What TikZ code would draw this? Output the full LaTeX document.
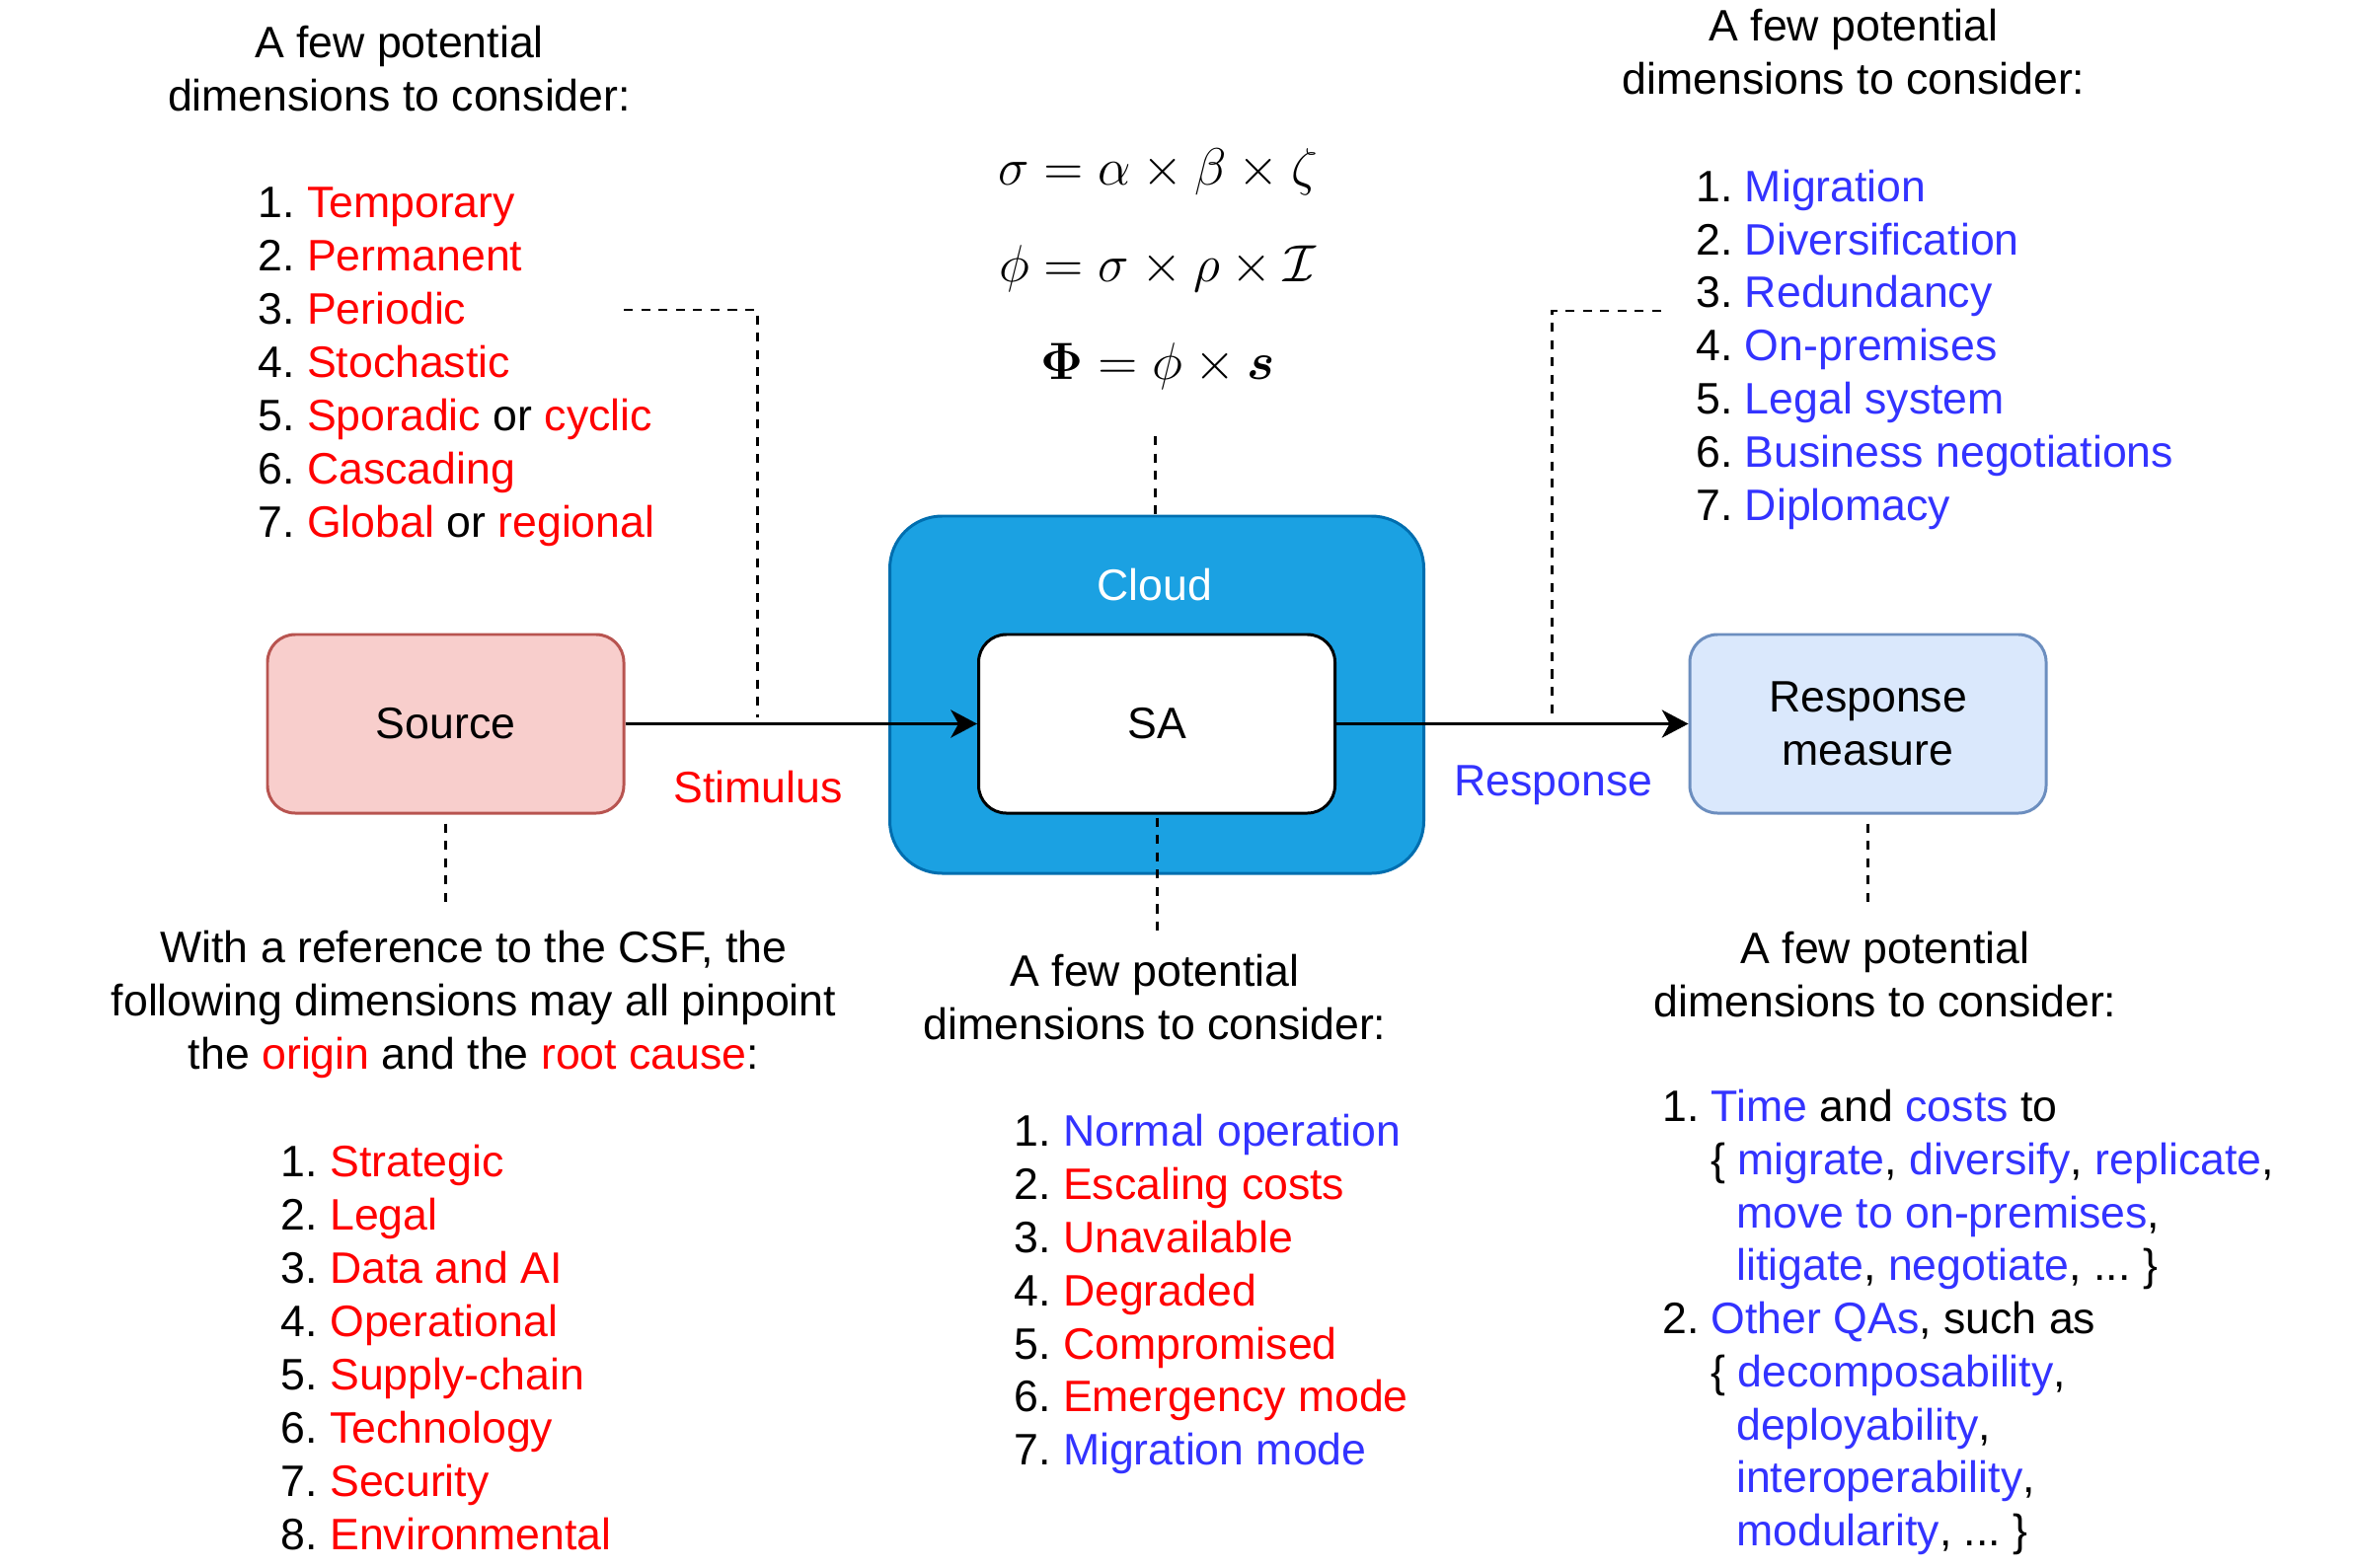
\RequirePackage{fix-cm}
\documentclass[tikz,border=0pt]{standalone}
\usepackage[no-math]{fontspec}
\setmainfont{Liberation Sans}
\usepackage{amsmath,amssymb}
\usepackage{xcolor}
\definecolor{textRed}{RGB}{255,0,0}
\definecolor{textBlue}{RGB}{51,51,255}
\definecolor{cloudFill}{RGB}{27,161,226}
\definecolor{cloudLine}{RGB}{0,110,175}
\definecolor{srcFill}{RGB}{248,206,204}
\definecolor{srcLine}{RGB}{184,84,80}
\definecolor{respFill}{RGB}{218,232,252}
\definecolor{respLine}{RGB}{108,142,191}
\usepackage{tikz}
\usetikzlibrary{arrows.meta,positioning,calc}
\newcommand{\redtxt}[1]{\textcolor{textRed}{#1}}
\newcommand{\bluetxt}[1]{\textcolor{textBlue}{#1}}
\newcommand{\diofont}{\fontsize{12.7}{15.36}\selectfont\frenchspacing}
\tikzstyle{basebox}=[rectangle, rounded corners=0.28cm, minimum width=3.61cm, minimum height=1.81cm, line width=0.85pt, inner sep=0pt, font=\diofont, align=center]
\tikzstyle{srcbox}=[basebox, draw=srcLine, fill=srcFill]
\tikzstyle{sabox}=[basebox, draw=black, fill=white]
\tikzstyle{respbox}=[basebox, draw=respLine, fill=respFill]
\tikzstyle{cloudbox}=[rectangle, rounded corners=0.53cm, minimum width=5.41cm, minimum height=3.62cm, line width=0.85pt, draw=cloudLine, fill=cloudFill]
\tikzstyle{txt}=[inner sep=0pt, font=\diofont, align=center, anchor=base]
\tikzstyle{item}=[inner sep=0pt, font=\diofont, anchor=base west]
\tikzstyle{formula}=[inner sep=0pt, font=\fontsize{15.1}{18}\selectfont, anchor=base]
\tikzstyle{flowarrow}=[-{Stealth[length=7.6pt,width=8pt,inset=2.2pt]}, line width=0.85pt]
\tikzstyle{dimline}=[line width=0.85pt, dash pattern=on 2.6pt off 2.4pt]

\begin{document}
\begin{tikzpicture}
    \useasboundingbox (0,0) rectangle (23.88,-15.88);

    % Formulas
    \node[formula] (f1) at (11.73,-1.88) {$\sigma = \alpha \times \beta \times \zeta$};
    \node[formula] (f2) at (11.73,-2.86) {$\phi = \sigma \times \rho \times \mathcal{I}$};
    \node[formula] (f3) at (11.73,-3.85) {$\boldsymbol{\Phi} = \phi \times \boldsymbol{s}$};

    % Boxes
    \node[cloudbox] (cloud) at (11.72,-7.04) {};
    \node[txt, text=white] (cloudlbl) at (11.70,-6.08) {Cloud};
    \node[sabox] (sa) at (11.72,-7.335) {SA};
    \node[srcbox] (src) at (4.515,-7.335) {Source};
    \node[respbox] (resp) at (18.925,-7.335) {Response\\measure};

    % Arrows
    \draw[flowarrow] (src) -- (sa);
    \draw[flowarrow] (sa) -- (resp);
    \node[txt, text=textRed] (stim) at (7.68,-8.13) {Stimulus};
    \node[txt, text=textBlue] (respl) at (15.74,-8.06) {Response};

    % Headers (base = last line)
    \node[txt] (tlhead) at (4.045,-1.127) {A few potential\\dimensions to consider:};
    \node[txt] (trhead) at (18.78,-0.957) {A few potential\\dimensions to consider:};
    \node[txt] (blhead) at (4.80,-10.832) {With a reference to the CSF, the\\following dimensions may all pinpoint\\the \redtxt{origin} and the \redtxt{root cause}:};
    \node[txt] (bchead) at (11.70,-10.536) {A few potential\\dimensions to consider:};
    \node[txt] (brhead) at (19.10,-10.30) {A few potential\\dimensions to consider:};

    % Stimulus dimensions
    \foreach \i/\txt in {1/\redtxt{Temporary}, 2/\redtxt{Permanent}, 3/\redtxt{Periodic}, 4/\redtxt{Stochastic},
                         5/{\redtxt{Sporadic} or \redtxt{cyclic}}, 6/\redtxt{Cascading}, 7/{\redtxt{Global} or \redtxt{regional}}}
      \node[item] (tl\i) at (2.607, {-2.21-0.54*(\i-1)}) {\i. \txt};

    % Response dimensions
    \foreach \i/\txt in {1/Migration, 2/Diversification, 3/Redundancy, 4/On-premises,
                         5/Legal system, 6/Business negotiations, 7/Diplomacy}
      \node[item] (tr\i) at (17.176, {-2.045-0.5375*(\i-1)}) {\i. \bluetxt{\txt}};

    % Source dimensions
    \foreach \i/\txt in {1/Strategic, 2/Legal, 3/Data and AI, 4/Operational,
                         5/Supply-chain, 6/Technology, 7/Security, 8/Environmental}
      \node[item] (bl\i) at (2.84, {-11.923-0.54*(\i-1)}) {\i. \redtxt{\txt}};

    % SA dimensions
    \foreach \i/\txt in {1/\bluetxt{Normal operation}, 2/\redtxt{Escaling costs}, 3/\redtxt{Unavailable}, 4/\redtxt{Degraded},
                         5/\redtxt{Compromised}, 6/\redtxt{Emergency mode}, 7/\bluetxt{Migration mode}}
      \node[item] (bc\i) at (10.267, {-11.614-0.539*(\i-1)}) {\i. \txt};

    % Response measure dimensions
    \foreach \i/\xx/\txt in {1/16.835/{1. \bluetxt{Time} and \bluetxt{costs} to},
                             2/17.326/{\{ \bluetxt{migrate}, \bluetxt{diversify}, \bluetxt{replicate},},
                             3/17.585/{\bluetxt{move to on-premises},},
                             4/17.585/{\bluetxt{litigate}, \bluetxt{negotiate}, ... \}},
                             5/16.835/{2. \bluetxt{Other QAs}, such as},
                             6/17.326/{\{ \bluetxt{decomposability},},
                             7/17.585/{\bluetxt{deployability},},
                             8/17.585/{\bluetxt{interoperability},},
                             9/17.585/{\bluetxt{modularity}, ... \}}}
      \node[item] (br\i) at (\xx, {-11.367-0.5375*(\i-1)}) {\txt};

    % Dashed links
    \coordinate (tlA) at (6.32,-3.14);
    \coordinate (tlB) at (7.67,-7.27);
    \coordinate (trA) at (16.83,-3.15);
    \coordinate (trB) at (15.72,-7.27);
    \coordinate (fmB) at (11.70,-4.42);
    \coordinate (blB) at (4.515,-9.14);
    \coordinate (bcB) at (11.72,-9.44);
    \coordinate (brB) at (18.925,-9.14);
    \draw[dimline] (tlA) -| (tlB);
    \draw[dimline] (trA) -| (trB);
    \draw[dimline] (fmB) -- (fmB |- cloud.north);
    \draw[dimline] ([yshift=-0.09cm]src.south) -- (blB);
    \draw[dimline] ([yshift=-0.03cm]sa.south) -- (bcB);
    \draw[dimline] ([yshift=-0.09cm]resp.south) -- (brB);
\end{tikzpicture}
\end{document}
